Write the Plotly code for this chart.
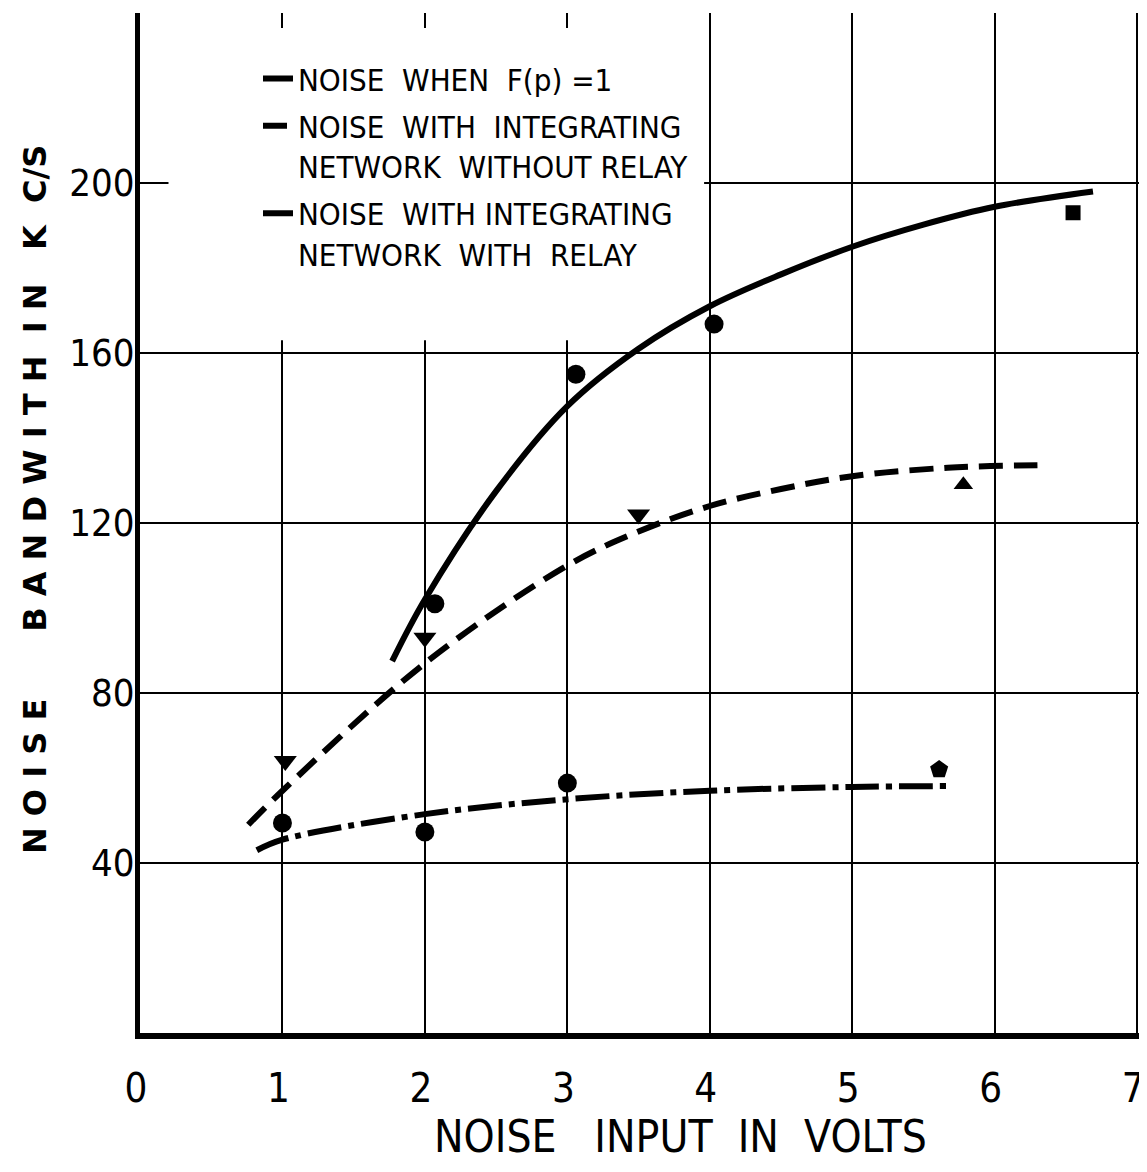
import plotly.graph_objects as go

# ---- data ----
solid_x = [1.77, 2.0, 2.5, 3.0, 3.5, 4.0, 4.5, 5.0, 5.5, 6.0, 6.69]
solid_y = [87.5, 102, 127.5, 147.5, 161, 171, 178.5, 185, 190.2, 194.4, 198]
solid_pts_x = [2.07, 3.06, 4.03]
solid_pts_y = [101, 155, 166.8]
solid_sq_x = [6.55]
solid_sq_y = [193]

dashed_x = [0.76, 1.0, 2.0, 3.0, 3.5, 4.0, 4.5, 5.0, 5.67, 6.3]
dashed_y = [49, 57, 87, 110, 118, 124, 128, 131, 133, 133.6]
dashed_tri_x = [1.02, 2.0, 3.5]
dashed_tri_y = [64, 93, 122]
dashed_up_x = [5.78]
dashed_up_y = [129]

dashdot_x = [0.82, 1.0, 2.0, 3.0, 4.0, 5.0, 5.69]
dashdot_y = [43, 45.5, 51.5, 55, 57, 57.9, 58.1]
dashdot_pts_x = [1.0, 2.0, 3.0]
dashdot_pts_y = [49.4, 47.3, 58.8]
dashdot_pent_x = [5.61]
dashdot_pent_y = [62]

x_ticks = [0, 1, 2, 3, 4, 5, 6, 7]
x_ticktext = ["0", "1", "2", "3", "4", "5", "6", "7"]
y_ticks = [40, 80, 120, 160, 200, 240]
y_ticktext = ["40", "80", "120", "160", "200", ""]

NB = "\u00a0"
names = [
    f"NOISE{NB}{NB}WHEN{NB}{NB}F(p){NB}=1",
    f"NOISE{NB}{NB}WITH{NB}{NB}INTEGRATING<br>NETWORK{NB}{NB}WITHOUT{NB}RELAY",
    f"NOISE{NB}{NB}WITH{NB}INTEGRATING<br>NETWORK{NB}{NB}WITH{NB}{NB}RELAY",
]

NARROW = "DejaVu Sans Condensed, DejaVu Sans, sans-serif"

fig = go.Figure()

fig.add_trace(go.Scatter(x=solid_x, y=solid_y, mode="lines", name=names[0], legendgroup="a",
                         line=dict(color="black", width=6, shape="spline")))
fig.add_trace(go.Scatter(x=dashed_x, y=dashed_y, mode="lines", name=names[1], legendgroup="b",
                         line=dict(color="black", width=6, shape="spline", dash="24px,11px")))
fig.add_trace(go.Scatter(x=dashdot_x, y=dashdot_y, mode="lines", name=names[2], legendgroup="c",
                         line=dict(color="black", width=6, shape="spline", dash="34px,7px,6px,7px")))

mk = dict(color="black")
fig.add_trace(go.Scatter(x=solid_pts_x, y=solid_pts_y, mode="markers", showlegend=False,
                         marker=dict(symbol="circle", size=19, **mk)))
fig.add_trace(go.Scatter(x=solid_sq_x, y=solid_sq_y, mode="markers", showlegend=False,
                         marker=dict(symbol="square", size=15, **mk)))
fig.add_trace(go.Scatter(x=dashed_tri_x, y=dashed_tri_y, mode="markers", showlegend=False,
                         marker=dict(symbol="triangle-down", size=20, **mk)))
fig.add_trace(go.Scatter(x=dashed_up_x, y=dashed_up_y, mode="markers", showlegend=False,
                         marker=dict(symbol="triangle-up", size=17, **mk)))
fig.add_trace(go.Scatter(x=dashdot_pts_x, y=dashdot_pts_y, mode="markers", showlegend=False,
                         marker=dict(symbol="circle", size=19, **mk)))
fig.add_trace(go.Scatter(x=dashdot_pent_x, y=dashdot_pent_y, mode="markers", showlegend=False,
                         marker=dict(symbol="pentagon", size=19, **mk)))

# white panel behind the legend hiding the grid
fig.add_shape(type="rect", xref="x", yref="y", x0=0.2, x1=3.96, y0=163, y1=236.5,
              fillcolor="white", line=dict(width=0), layer="between")

fig.update_xaxes(range=[0, 7.02], tickvals=x_ticks, ticktext=x_ticktext,
                 showgrid=True, gridcolor="black", gridwidth=2,
                 showline=True, linecolor="black", linewidth=6, mirror=False,
                 zeroline=False, ticks="", ticklabelstandoff=15, ticklabelshift=-4,
                 automargin=False, ticklabeloverflow="allow",
                 tickfont=dict(family=NARROW, size=40, color="black"))
fig.update_yaxes(range=[0, 240], tickvals=y_ticks, ticktext=y_ticktext,
                 showgrid=True, gridcolor="black", gridwidth=2,
                 showline=True, linecolor="black", linewidth=5, mirror=False,
                 zeroline=False, ticks="", ticklabelstandoff=-7, automargin=False,
                 tickfont=dict(family=NARROW, size=38, color="black"))

def spaced(word, sep=NB):
    return sep.join(list(word))

ytitle = (spaced("NOISE") + NB * 6 + spaced("BANDWITH") + NB * 2 + spaced("IN") + NB * 3
          + "K" + NB * 2 + "C/S")
xtitle = "NOISE" + NB * 3 + "INPUT" + NB * 2 + "IN" + NB * 2 + "VOLTS"

fig.add_annotation(text=ytitle, xref="paper", yref="paper", x=-0.105, y=0.5225,
                   textangle=-90, showarrow=False, xanchor="center", yanchor="middle",
                   font=dict(family="DejaVu Sans", size=32, color="black", weight="bold"))
fig.add_annotation(text=xtitle, xref="paper", yref="paper", x=0.54, y=-0.1282,
                   showarrow=False, xanchor="center", yanchor="bottom",
                   font=dict(family=NARROW, size=44, color="black"))

# page body has an 8px margin: figure is sized/margined so the plot lands where the reference has it
fig.update_layout(
    width=1139, height=1156,
    margin=dict(l=132, r=7, t=5, b=131),
    paper_bgcolor="white", plot_bgcolor="white",
    showlegend=True,
    legend=dict(x=0.118, y=0.962, xanchor="left", yanchor="top",
                bgcolor="rgba(0,0,0,0)", borderwidth=0, valign="top",
                itemwidth=30, tracegroupgap=4, traceorder="grouped",
                font=dict(family=NARROW, size=31, color="black")),
)

fig.write_html("out.html")
